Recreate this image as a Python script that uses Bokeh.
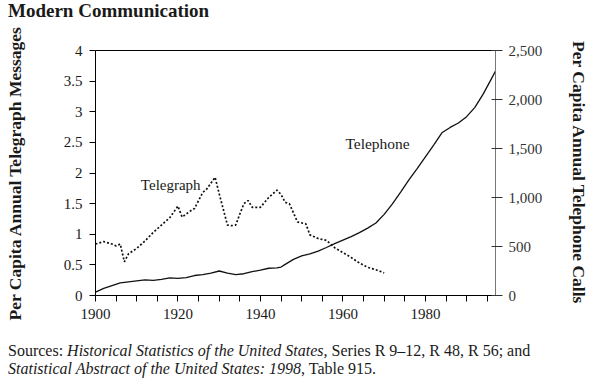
from bokeh.plotting import figure
from bokeh.models import (Range1d, LinearAxis, FixedTicker, NumeralTickFormatter, Label, Div)
from bokeh.layouts import column
from bokeh.embed import file_html
from bokeh.resources import INLINE

# ---- data ----
tel_years = [1900, 1902, 1904, 1906, 1908, 1910, 1912, 1914, 1916, 1918, 1920, 1922, 1924,
             1926, 1928, 1930, 1932, 1934, 1936, 1938, 1940, 1942, 1944, 1945, 1946, 1948,
             1950, 1952, 1954, 1956, 1958, 1960, 1962, 1964, 1966, 1968, 1970, 1972, 1974,
             1976, 1978, 1980, 1982, 1984, 1986, 1988, 1990, 1992, 1994, 1996, 1997]
tel_calls = [34, 72, 100, 128, 140, 150, 160, 154, 165, 180, 174, 182, 204,
             213, 228, 250, 228, 213, 222, 244, 258, 278, 282, 290, 318, 369,
             405, 425, 452, 490, 530, 566, 601, 641, 687, 740, 828, 934, 1055,
             1180, 1295, 1415, 1535, 1660, 1715, 1760, 1825, 1920, 2055, 2210, 2290]

tg_years = [1900, 1902, 1904, 1905, 1906, 1907, 1908, 1910, 1912, 1914, 1916, 1918, 1920,
            1921, 1923, 1924, 1926, 1927, 1929, 1930, 1932, 1933, 1934, 1935, 1936, 1937,
            1938, 1940, 1942, 1943, 1944, 1945, 1946, 1947, 1949, 1951, 1952, 1954, 1956,
            1958, 1960, 1962, 1964, 1966, 1968, 1970]
tg_msgs = [0.84, 0.88, 0.84, 0.81, 0.84, 0.55, 0.68, 0.77, 0.89, 1.03, 1.15, 1.27, 1.46,
           1.28, 1.38, 1.42, 1.68, 1.74, 1.93, 1.66, 1.15, 1.14, 1.15, 1.33, 1.50, 1.55,
           1.44, 1.44, 1.60, 1.66, 1.72, 1.65, 1.52, 1.50, 1.20, 1.17, 0.99, 0.93, 0.90,
           0.78, 0.70, 0.62, 0.53, 0.46, 0.42, 0.37]

x_ticks = list(range(1900, 1996, 5))
x_labels = [1900, 1920, 1940, 1960, 1980]
left_ticks = [0, 0.5, 1, 1.5, 2, 2.5, 3, 3.5, 4]
left_labels = ["0", "0.5", "1", "1.5", "2", "2.5", "3", "3.5", "4"]
right_ticks = [0, 500, 1000, 1500, 2000, 2500]

TITLE = "Modern Communication"
LEFT_TITLE = "Per Capita Annual Telegraph Messages"
RIGHT_TITLE = "Per Capita Annual Telephone Calls"
SOURCE_1 = ("Sources: <i>Historical Statistics of the United States,</i> "
            "Series R 9\u201312, R 48, R 56; and")
SOURCE_2 = "<i>Statistical Abstract of the United States: 1998</i>, Table 915."

FONT = "Liberation Serif"
INK = "#1a1a1a"

title_div = Div(text=TITLE, width=600, height=22, margin=(0, 0, 0, 0),
                styles={"font-family": FONT, "font-size": "19px", "font-weight": "bold",
                        "line-height": "22px", "color": INK, "padding-left": "8px",
                        "white-space": "nowrap"})

p = figure(width=600, height=318, output_backend="svg", toolbar_location=None,
           x_range=Range1d(1900, 1997), y_range=Range1d(0, 4),
           min_border_left=95, min_border_right=105, min_border_top=28, min_border_bottom=45,
           x_axis_location=None, y_axis_location=None, margin=(0, 0, 0, 0))
p.outline_line_color = None
p.xgrid.visible = False
p.ygrid.visible = False
p.background_fill_color = "white"
p.border_fill_color = "white"
p.extra_y_ranges = {"tel": Range1d(0, 2500)}

# bottom axis
xa = LinearAxis(ticker=FixedTicker(ticks=x_ticks))
xa.major_label_overrides = {t: (str(t) if t in x_labels else "") for t in x_ticks}
xa.major_tick_in = 0
xa.major_tick_out = 6
xa.minor_tick_line_color = None
xa.axis_line_color = "black"
xa.major_tick_line_color = "black"
xa.major_label_standoff = 7
xa.major_label_text_font = FONT
xa.major_label_text_font_size = "15px"
xa.major_label_text_color = INK
p.add_layout(xa, "below")

# top border line
ta = LinearAxis(ticker=FixedTicker(ticks=[]))
ta.major_label_text_font_size = "0px"
ta.major_tick_line_color = None
ta.minor_tick_line_color = None
ta.axis_line_color = "black"
p.add_layout(ta, "above")

# left axis
ya = LinearAxis(ticker=FixedTicker(ticks=left_ticks), axis_label=LEFT_TITLE)
ya.major_label_overrides = dict(zip(left_ticks, left_labels))
ya.major_tick_in = 0
ya.major_tick_out = 6
ya.minor_tick_line_color = None
ya.axis_line_color = "black"
ya.major_tick_line_color = "black"
ya.major_label_standoff = 7
ya.major_label_text_font = FONT
ya.major_label_text_font_size = "15px"
ya.major_label_text_color = INK
ya.axis_label_text_font = FONT
ya.axis_label_text_font_size = "17.5px"
ya.axis_label_text_font_style = "bold"
ya.axis_label_text_color = INK
ya.axis_label_standoff = 36
p.add_layout(ya, "left")

# right axis
ra = LinearAxis(y_range_name="tel", ticker=FixedTicker(ticks=right_ticks),
                formatter=NumeralTickFormatter(format="0,0"), axis_label=RIGHT_TITLE)
ra.major_tick_in = 4
ra.major_tick_out = 7
ra.minor_tick_line_color = None
ra.axis_line_color = "#777777"
ra.major_tick_line_color = "#333333"
ra.major_label_standoff = 6
ra.major_label_text_font = FONT
ra.major_label_text_font_size = "15px"
ra.major_label_text_color = "#333333"
ra.axis_label_text_font = FONT
ra.axis_label_text_font_size = "17.5px"
ra.axis_label_text_font_style = "bold"
ra.axis_label_text_color = INK
ra.axis_label_standoff = 24
p.add_layout(ra, "right")

# series
p.line(tg_years, tg_msgs, line_color="#111111", line_width=1.7, line_dash="2 2")
p.line(tel_years, tel_calls, y_range_name="tel", line_color="#111111", line_width=1.3)

# series labels (data coords)
p.add_layout(Label(x=1911, y=1.80, text="Telegraph", text_font=FONT, text_font_size="15px",
                   text_color=INK, text_baseline="alphabetic"))
p.add_layout(Label(x=1960.6, y=2.48, text="Telephone", text_font=FONT, text_font_size="15.5px",
                   text_color=INK, text_baseline="alphabetic"))

src_div = Div(text=SOURCE_1 + "<br>" + SOURCE_2, width=600, height=45, margin=(0, 0, 0, 0),
              styles={"font-family": FONT, "font-size": "16px", "line-height": "18px",
                      "color": INK, "padding-left": "8px", "padding-top": "2px",
                      "white-space": "nowrap"})

layout = column(title_div, p, src_div, spacing=0)

open("out.html", "w").write(file_html(layout, INLINE))
